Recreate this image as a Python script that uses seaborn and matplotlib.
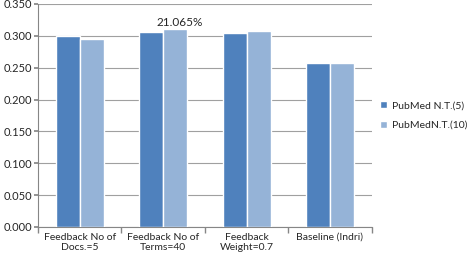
import seaborn as sns
import matplotlib.pyplot as plt
import pandas as pd

# data
categories = ["Feedback No of\nDocs.=5", "Feedback No of\nTerms=40",
              "Feedback\nWeight=0.7", "Baseline (Indri)"]
series = ["PubMed N.T.(5)", "PubMedN.T.(10)"]
nt5 = [0.300, 0.306, 0.304, 0.257]
nt10 = [0.295, 0.311, 0.308, 0.257]
yticks = [0.0, 0.05, 0.10, 0.15, 0.20, 0.25, 0.30, 0.35]
boundaries = [-0.5, 0.5, 1.5, 2.5, 3.5]

df = pd.DataFrame({
    "cat": categories * 2,
    "series": [series[0]] * 4 + [series[1]] * 4,
    "value": nt5 + nt10,
})

sns.set_theme(style="white")
plt.rcParams['font.family'] = ['Lato', 'DejaVu Sans']

fig = plt.figure(figsize=(4.72, 2.63), dpi=100)
ax = fig.add_axes([0.0805, 0.137, 0.707, 0.848])

sns.barplot(data=df, x="cat", y="value", hue="series",
            palette=["#4F81BD", "#95B3D7"], width=0.575, gap=0,
            saturation=1, errorbar=None, ax=ax, zorder=3)

ax.set_ylim(0, 0.35)
ax.set_xlim(-0.5, 3.5)
ax.set_yticks(yticks)
ax.set_yticklabels([f"{v:.3f}" for v in yticks], fontsize=8)
ax.set_xlabel("")
ax.set_ylabel("")

# category tick marks at the boundaries
ax.set_xticks(boundaries, minor=True)
ax.tick_params(axis="x", which="minor", length=4, color="#868686", bottom=True)
ax.tick_params(axis="x", which="major", length=0, labelsize=7.5, pad=4)
ax.tick_params(axis="y", length=3, color="#868686", left=True, pad=1)

# horizontal gridlines only
ax.yaxis.grid(True, which="major", color="#A0A0A0", linewidth=0.8)
ax.set_axisbelow(True)
for t in ax.xaxis.get_major_ticks() + ax.xaxis.get_minor_ticks():
    t.gridline.set_visible(False)

for s in ["top", "right"]:
    ax.spines[s].set_visible(False)
for s in ["left", "bottom"]:
    ax.spines[s].set_color("#868686")
    ax.spines[s].set_linewidth(0.8)

ax.text(1.195, nt10[1] + 0.001, "21.065%", ha="center", va="bottom", fontsize=8.5)

ax.legend(loc="center left", bbox_to_anchor=(1.024, 0.5), frameon=False,
          fontsize=7.5, handlelength=0.7, handleheight=0.7, handletextpad=0.5,
          labelspacing=1.0, borderaxespad=0, borderpad=0)

fig.savefig("out.png", dpi=100)
